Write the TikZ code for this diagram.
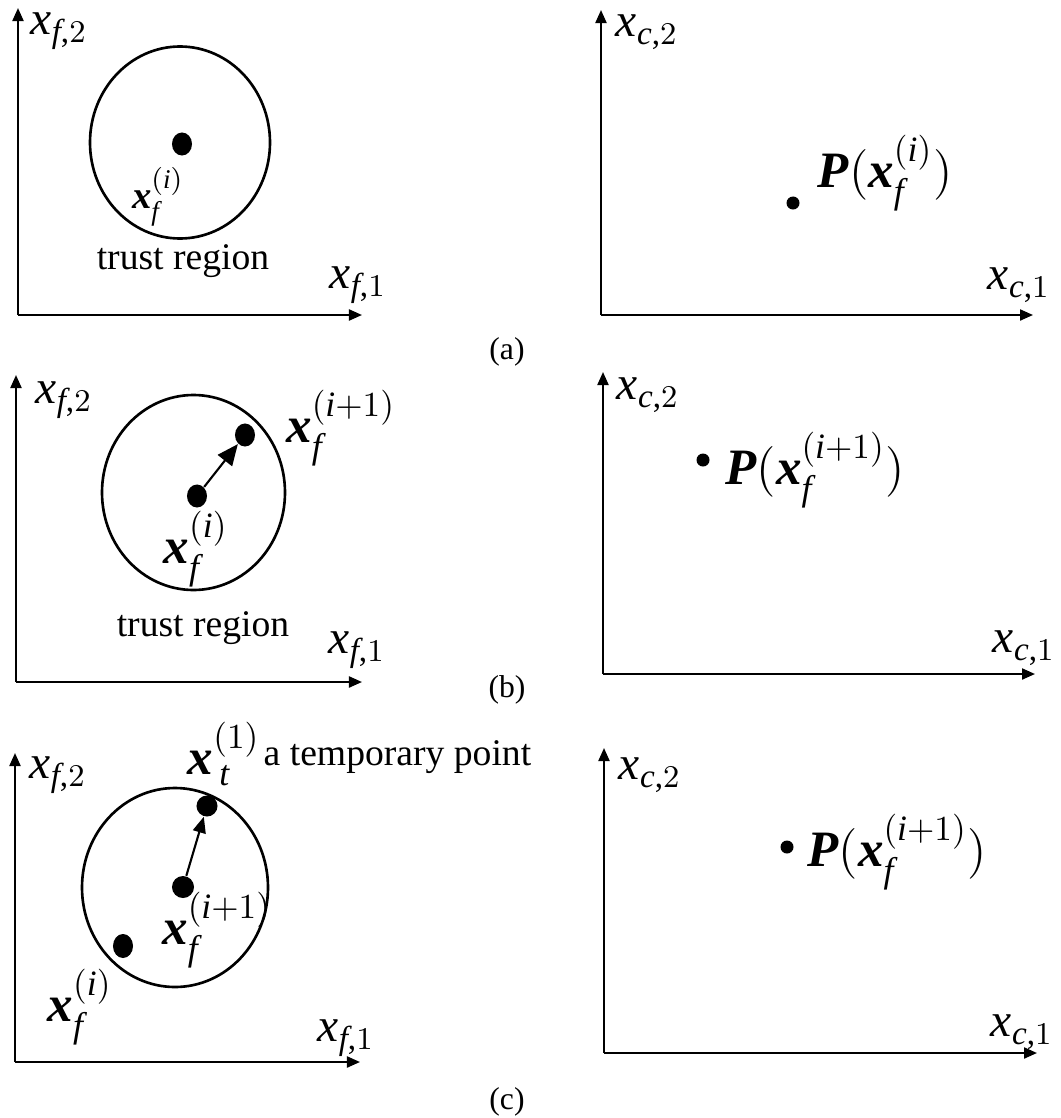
\documentclass[tikz,border=0pt]{standalone}
\usepackage{amsmath}
\usepackage{fontspec}
\setmainfont{Liberation Serif}
\usetikzlibrary{arrows.meta,shapes.geometric,positioning}

\newcommand{\bx}{\textbf{\textit{x}}}
\newcommand{\bP}{\textbf{\textit{P}}}
\newcommand{\axlab}[2]{$\textit{x}_{\textit{#1}\text{,}#2}$}

\tikzset{
  axis/.style={line width=0.6pt,-{Triangle[length=0.13cm,width=0.11cm]}},
  region/.style={line width=0.75pt},
  dot/.style={ellipse,fill=black,inner sep=0pt,minimum width=0.2cm,minimum height=0.23cm},
  smalldot/.style={circle,fill=black,inner sep=0pt,minimum size=0.13cm},
  axlabel/.style={inner sep=0pt,font=\fontsize{13.5}{15}\selectfont},
  ptlabel/.style={inner sep=0pt,font=\fontsize{14.5}{16}\selectfont},
  note/.style={inner sep=0pt,font=\fontsize{10.7}{12}\selectfont},
  caption/.style={inner sep=0pt,font=\fontsize{9}{10}\selectfont},
  move/.style={line width=0.6pt,-{Triangle[length=0.21cm,width=0.18cm]}}
}

\begin{document}
\begin{tikzpicture}[x=0.01cm,y=-0.01cm]
  \useasboundingbox (0,0) rectangle (1060,1118);

  % (a) fine space: trust region round the current point
  \coordinate (aFo) at (18,315);
  \coordinate (aFy) at (18,8);
  \coordinate (aFx) at (362,315);
  \draw[axis] (aFo) -- (aFy);
  \draw[axis] (aFo) -- (aFx);
  \node[axlabel] (aFyl) at (59,31) {\axlab{f}{2}};
  \node[axlabel] (aFxl) at (358,285) {\axlab{f}{1}};
  \draw[region] (180,142.5) ellipse [x radius=90, y radius=96];
  \node[dot] (aFi) at (182,144) {};
  \node[inner sep=0pt,font=\fontsize{11}{12}\selectfont] (aFil) at (158,197) {$\bx_{\textit{f}}^{(\textit{i})}$};
  \node[note] (aFtr) at (183,261) {trust region};

  % (a) coarse space
  \coordinate (aCo) at (601,315);
  \coordinate (aCy) at (601,10);
  \coordinate (aCx) at (1033,315);
  \draw[axis] (aCo) -- (aCy);
  \draw[axis] (aCo) -- (aCx);
  \node[axlabel] (aCyl) at (647,32) {\axlab{c}{2}};
  \node[axlabel] (aCxl) at (1019,285) {\axlab{c}{1}};
  \node[smalldot] (aCp) at (793,203) {};
  \node[ptlabel] (aCpl) at (885,173) {$\bP(\bx_{\textit{f}}^{(\textit{i})})$};

  \node[caption] (aCap) at (507,352) {(a)};

  % (b) fine space: step to the next iterate
  \coordinate (bFo) at (16,682);
  \coordinate (bFy) at (16,375);
  \coordinate (bFx) at (362,682);
  \draw[axis] (bFo) -- (bFy);
  \draw[axis] (bFo) -- (bFx);
  \node[axlabel] (bFyl) at (64,400) {\axlab{f}{2}};
  \node[axlabel] (bFxl) at (357,650) {\axlab{f}{1}};
  \draw[region] (193.5,492.5) ellipse [x radius=91.5, y radius=97.5];
  \node[dot] (bFi) at (197,496) {};
  \node[dot] (bFn) at (245,435) {};
  \draw[move] (bFi) -- (bFn);
  \node[ptlabel] (bFil) at (196,549) {$\bx_{\textit{f}}^{(\textit{i})}$};
  \node[ptlabel] (bFnl) at (341,428) {$\bx_{\textit{f}}^{(\textit{i}+1)}$};
  \node[note] (bFtr) at (203,628) {trust region};

  % (b) coarse space
  \coordinate (bCo) at (603,674);
  \coordinate (bCy) at (603,372);
  \coordinate (bCx) at (1035,674);
  \draw[axis] (bCo) -- (bCy);
  \draw[axis] (bCo) -- (bCx);
  \node[axlabel] (bCyl) at (648,395) {\axlab{c}{2}};
  \node[axlabel] (bCxl) at (1024,648) {\axlab{c}{1}};
  \node[smalldot] (bCp) at (703,460) {};
  \node[ptlabel] (bCpl) at (815,470) {$\bP(\bx_{\textit{f}}^{(\textit{i}+1)})$};

  \node[caption] (bCap) at (507,690) {(b)};

  % (c) fine space: temporary point on the border
  \coordinate (cFo) at (15,1062);
  \coordinate (cFy) at (15,753);
  \coordinate (cFx) at (360,1062);
  \draw[axis] (cFo) -- (cFy);
  \draw[axis] (cFo) -- (cFx);
  \node[axlabel] (cFyl) at (58,775) {\axlab{f}{2}};
  \node[axlabel] (cFxl) at (346,1038) {\axlab{f}{1}};
  \draw[region] (175,887.5) ellipse [x radius=93, y radius=99.5];
  \node[dot,minimum width=0.21cm,minimum height=0.21cm] (cFt) at (207,806) {};
  \node[dot,minimum width=0.22cm,minimum height=0.22cm] (cFn) at (183,887) {};
  \node[dot,minimum width=0.2cm,minimum height=0.24cm] (cFi) at (123,946) {};
  \draw[move,-{Triangle[length=0.16cm,width=0.13cm]}] (cFn) -- (cFt);
  \node[ptlabel] (cFtl) at (224,754) {$\bx_{\,\textit{t}}^{(1)}$};
  \node[note,anchor=base west] (cFtn) at (263,765) {a temporary point};
  \node[ptlabel] (cFnl) at (217,930) {$\bx_{\textit{f}}^{(\textit{i}+1)}$};
  \node[ptlabel] (cFil) at (80,1007) {$\bx_{\textit{f}}^{(\textit{i})}$};

  % (c) coarse space
  \coordinate (cCo) at (604,1053);
  \coordinate (cCy) at (604,748);
  \coordinate (cCx) at (1037,1053);
  \draw[axis] (cCo) -- (cCy);
  \draw[axis] (cCo) -- (cCx);
  \node[axlabel] (cCyl) at (650,775) {\axlab{c}{2}};
  \node[axlabel] (cCxl) at (1022,1032) {\axlab{c}{1}};
  \node[smalldot] (cCp) at (787,847) {};
  \node[ptlabel] (cCpl) at (897,852) {$\bP(\bx_{\textit{f}}^{(\textit{i}+1)})$};

  \node[caption] (cCap) at (507,1102) {(c)};
\end{tikzpicture}
\end{document}
